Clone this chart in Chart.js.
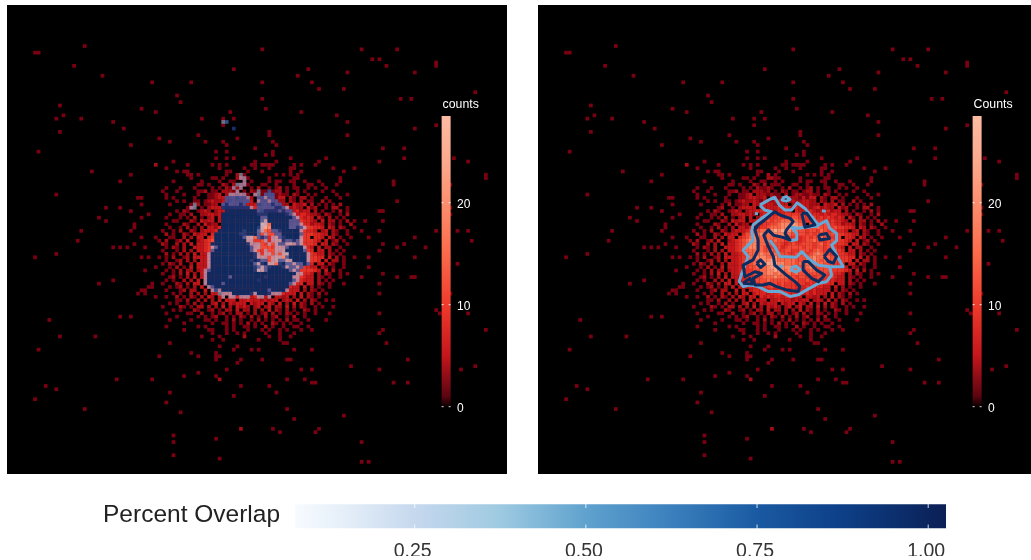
<!DOCTYPE html>
<html><head><meta charset="utf-8">
<script src="https://cdn.jsdelivr.net/npm/chart.js@4"></script>
<style>
html,body{margin:0;padding:0;background:#fff;overflow:hidden;width:1031px;height:560px}
canvas{position:absolute;display:block}
#a{left:7px;top:5px;background:#000}
#b{left:538px;top:5px;background:#000}
#c{left:0;top:490px}
</style></head><body>
<canvas id="a" width="500" height="469"></canvas>
<canvas id="b" width="500" height="469"></canvas>
<canvas id="c" width="1031" height="70"></canvas>
<script>
// Sparse bins outside the central block: [column, row, count level]
const sparseCells = [
[22,12],[8,14],[9,14],[19,18],[64,19],[27,21],[41,23],[52,23],[48,27],[49,29],[15,30],[38,31],[42,32],[63,32],[16,33],[14,34],[21,34],[55,34],[61,34],[64,34],[30,35],[61,36],[33,37],[15,38],[54,39],[43,40],[65,40],[46,41],[56,41],[61,41],[62,42],[35,42],[70,43],[9,44],
[72,13],[100,13],[110,13],[103,16],[105,16],[107,18],[121,17],[121,18],[85,19],[96,20],[115,20],[82,21],[72,23],[86,23],[88,25],[95,25],[132,26],[72,28],[111,28],[114,28],[73,31],[83,32],[93,33],[96,35],[121,36],[115,37],[74,38],[74,39],[96,39],[75,41],[76,42],[106,43],[112,43],[112,46],[126,46],
[24,50],[35,51],[32,53],[14,57],[37,58],[38,58],[38,60],[28,61],[32,61],[35,62],[40,63],[26,64],[38,64],[28,65],[36,66],[36,67],[21,68],[35,68],[38,70],[42,70],[20,71],[36,72],[30,73],[32,73],[34,73],[39,73],[14,75],[8,76],[38,76],[40,76],[42,79],[39,80],[30,83],[26,84],[41,84],[40,85],[41,85],[38,86],[39,86],[37,87],[39,87],[42,88],[32,94],[35,94],[12,95],[15,100],[25,100],[42,48,2],
[105,47],[130,47],[135,51],[135,52],[109,53],[109,54],[125,54],[110,59],[105,62],[106,62],[125,61],[125,63],[101,65],[106,65],[100,68],[105,68],[121,68],[127,68],[130,68],[102,70],[115,70],[131,71],[106,72],[110,73],[112,72],[118,73],[105,74],[102,76],[115,76],[127,78],[102,79],[106,81],[100,82],[110,82],[114,82],[115,82],[105,84],[105,87],[125,87],[121,92],[122,93],[105,93],[130,93],[105,99],[106,98],[135,98],
[46,102],[60,103],[65,103],[9,104],[64,104],[69,104],[71,104],[52,105],[59,105],[43,106],[54,106],[59,106],[60,106],[59,107],[66,107],[65,108],[62,110],[54,111],[50,112],[59,112],[31,113],[41,113],[60,113,2],[11,115],[66,115],[14,116],[46,117],[8,119],[64,118],[45,120],[22,122],[49,123],[66,128,2],[47,130],[59,131],[47,132],[47,136],[60,137],
[78,102],[79,102],[107,102],[81,104],[86,104],[72,107],[79,107],[80,107],[113,107],[97,109],[83,110],[86,110],[105,110],[79,113],[84,113],[86,114],[87,114],[109,114],[113,114],[74,115],[76,117],[128,110],[132,109],[79,122],[81,125],[95,124],[75,128],[88,128],[77,129],[87,129],[100,132],[100,138],[102,138]
];
// Central block, rows 44..101, columns 43..99: one character per bin, count level (. = empty, a = highest)
const blockCol0 = 43, blockRow0 = 44;
const countRows = [
"................1..1............1.......................",
"..............................1.1.......................",
"................1..1.1...............1.........1........",
"....1......................1.....1...........1..........",
"........1......1.1.1......11.1111.....1.1...1...........",
"..1..............1......1..1...1.....11..........1.....1",
".....1.11..........11....1...1.......1..1...........1...",
"........11.1.......1..2.1........1.1.1.1................",
".........1.....11.1...2211.....1......11...........1....",
"....1.......1....1..11..1.1....1.11..11..1...1.....1....",
"...........11.1...21.2.111...11..1....1...11..1...1.....",
"..1...1...1....1.1.21121..1.2..1.12.1.11..1.1..1........",
".1...1.....112.11.22212.1.21.11.122.1..1.1....1..1......",
"..1....1...1..1123.2221211.2.12211211.21..1.1.....1..1..",
"..1.1.....1...11233223.3212.32213133.21.22.1...1...1....",
".....1.1..11.12322321322333.23223322.21.2.11..2.1.......",
"...1.....1.2.1122.3243332333.24333222.3223.2.1.1.1.2....",
"........12..1.23333.233334343343332342322.312..1.22..1..",
".....1.21..1232.2334444334443.4334432334233.2.1..1.2.1..",
"...1..11.2..2233232.34554445555554444343443221.21..1.2..",
"..1...1.1.2.1.23.3.2445556555665655545454343.31.2.1.1...",
"....11...21.3233.3344565667778766556555454432.3.22.1.2.1",
"..1....21..2.3122.344556678889876.6665655442332.21.1..2.",
"...1..1.2.1.2.3324.4556777889898876676665655443.32.21..1",
".1..1.2..21.233345667778989987766566576555443.23.21..1..",
"..2.1..21.3233.466778778888776566565666665554433.21..1..",
"...11..2.2.33.45678776776787655456566766555.443.32.1..1.",
"1.2..12.3..23456788777767665565456676556655543.3.12.1...",
".21..2.2.3.3345678877766665456556665675665554.33.21..1..",
"..1.21.2..3334567887766566456666566566565543.3.22..1....",
".1...1.2.2.334567778766765566556665676555654.33.2.1.1...",
"..2.1.2.2.3.33456777877677665566656787665655433.21.1....",
"1.1.2..12.3333456778887787766656677877676555544.3.2.1..1",
"..1..12.2.2.3345567788898777776667787676665554.3.22.1...",
".1.21.2..2.333456677889998877767778777666554.33.21..1...",
"...1.2.1.3.3334456677789988887767787666655433.21.1..1...",
"..1.1.2.22.23344556677889887877766776666555543.3.2.1....",
".1..1.2.3.2.33445667778878777676676665655443.2.21..1.1..",
"...12.1.2.3.33345566677787776656656566555433.21.1..1....",
"..1.1..2.2.3.3344556667666665665565555544333.2.1.1......",
".1...21.2.33.3.34455656665655555545455444.33.21.1...1...",
"...1.12.1.2.3.33344555565565554545444433.3.2.1..1.......",
"..1...12.22..3.3.34445454555454444343333.2.21.1.........",
"....1.1..2.2.2.33.344434454544433434333.3.21.2.1........",
"..1..2.1.21.2.32.33.434344344333.3323.2.3.21.1..........",
".....11.2..2.2.2.3.333.33433323233.232.3.2.21..1.1......",
"...1.1..1.2.1..23.2.32333.3233.32.3.2.3.21.2.1..........",
".1....21.1.22.2.2.3.2.3232.23.23.22.3.2.21..1.1..1......",
"....1.1...21..12.1.22.3.22.2.2.3.21.2.1..21.1...........",
"..1.....11..2..1.12.1.22.1.2.12.2.1.21.1.1..1...1.......",
".....1.....1.1.12..1.1.21.2.1.2.12..1.2..1..............",
"...1.....1...11.1..1.2.1..1.2.1.1.1.2.11..1....1........",
".......1.......1..11.1.1.2.1.1..21.1.1..1...............",
"..1........1.1.....1.1..11.1..2.1..1..11..1.............",
".......1......11...1.1...1...1.1..1.1...1..1............",
"...............1...1..1.1.....1...1...1.................",
"............1....1......2......1..1..1..................",
"...............1..1.........1.....1....................."
];
// Share of overlap inside the block (left panel): a light .. d full
const overlapRows = [
"","","","","","","",
".......................a",
".......................aa",
"........................a",
"......................aaa",
".....................a.a",
"......................a.....a..b",
"....................aaaaa..aa.bbb",
"...................bbbbbba..bbabb",
"...................bbbbbbb..abbabb",
"..........a.......bcbbbcb...bbbbcbb",
".........aa.......cccccccca.bbbbbccba",
"...................dddddddddbbccccbcbb",
"..................ddddddddddcccdddddcba",
"..................dddddddddddbbdddddddba",
"..................dddddddddddbaddddddbbb",
"..................dddddddddddaa.dddddbbba",
"..................ddddddddddca..dddddbbcba",
".................dddddddcdddba..bbcddddda",
"................dddddddccdddb.a..bbdddddb",
"................ddddddddbaa.bcb.aabcdddda",
"................dddddddddaa...a.aaacbbcba",
"...............ddddddddddcaaa..a.abbaaaba",
"...............abdddddddddbaa....aaabdddda",
"...............bddddddddddba..a..aaadddddb",
"..............addddddddddddca.aa.a.aaddddda",
"..............addddddddddddcaaa.aaa.bddddda",
"..............adddddddddddcdcbb.aabbaadddda",
"..............addddddddddddbacdaa.cdbbabbdb",
"..............addddddddddddcbabcdddcabbab",
".............abddddddddddddcaabddddddbab",
".............adddddddddddddddddddddddddaa",
".............addddddbdddddddddcdddddddaa",
".............addddddddddddddcdddddddddba",
".............addddbddddddddddddddddddba",
"..............abddddddddddddddddddddd",
"...............abadddddddddddddbdddda",
".................aaaadddddcadddcaaa",
"..................a.aa.aaa..aa.a"
];
const overlapSpots = [[62,35,"b"],[61,35,"a"],[64,37,"c"]];
// Overlap contours (right panel), column/row pairs
const lightContours = [
[[62.6,60.2],[65,58.7],[66.8,57.8],[68.1,60.2],[69.7,61.7],[71.5,61.7],[73.1,59.5],[75.3,61.2],[77.2,63.7],[79.1,66.2],[81.4,64.9],[82.3,67.2],[84.2,68.8],[84.2,71],[82.8,72.3],[84.7,76.3],[86.1,78.9],[82.3,78.9],[82.8,81.4],[81.4,83.4],[79.1,83.9],[75.8,85.9],[73.4,87.4],[71.1,87.9],[68.3,86.4],[65,86.4],[62.1,84.9],[59.8,84.4],[57.9,84.9],[56.8,83.4],[57.5,80.9],[58.4,78.4],[59.3,75.8],[57.9,73.8],[60.7,70.8],[60.3,68.2],[60.7,66.2],[63.1,64.2],[65.9,62.2],[64,61.7],[62.6,60.2]],
[[79.1,66.5],[75.8,66.9],[73.4,67.2],[71.5,66.9],[73,68.8],[73,70.6],[70.9,71]],
[[65.4,70.8],[67.1,73.3],[68.3,75.8],[72.9,76],[74.4,74.3],[76.7,76.8],[79.1,78.4],[82.3,78.9]],
[[71.5,79.1],[72.8,78.7],[73.9,79.7],[72.8,80.5],[71.5,79.9],[71.5,79.1]],
[[68.9,58.1],[70.1,57.6],[71.1,58.5],[70,59],[68.9,58.7],[68.9,58.1]],
[[61.2,62.7],[62.1,62.9]],
[[80.1,61.9],[81.2,62.1]],
[[68.1,78.4],[69,79.1]]
];
const darkContours = [
[[64,64.7],[66.8,62.2],[68.3,63.2],[71.1,64.2],[72,65.2],[70.1,67.7],[69.7,68.8],[71.1,70.8],[69.2,70],[66.4,69.3],[65,67.7],[63.7,69.3],[65,72.8],[66.4,75.8],[66.8,78.4],[70.1,81.4],[72.5,83.4],[73.9,84.9],[73.4,86.4],[70.1,85.9],[67.3,84.9],[65.4,83.9],[63.6,84.4],[61.2,84.4],[60.7,82.4],[63.1,80.9],[61.2,80.4],[58.4,81.9],[57.9,78.4],[60.7,76.8],[62.1,73.8],[62.1,70.8],[61.2,67.7],[62.1,66.2],[64,64.7]],
[[74.4,62.7],[75.8,62.7],[78.1,66.2],[75.3,66.9],[74.4,62.7]],
[[79.1,69.3],[81.4,68.8],[82.2,70.3],[79.5,70.8],[79.1,69.3]],
[[80.7,75.8],[82.3,73.6],[84.2,75.8],[83.3,77.8],[81.9,77.3],[80.7,75.8]],
[[74.8,77.3],[76.2,77.3],[78.6,79.9],[80.9,81.4],[79.1,83.4],[77.2,82.4],[74.8,79.9],[74.8,77.3]],
[[61.7,77.8],[62.8,76.8],[64,78.1],[62.8,79.1],[61.7,77.8]],
[[57.9,83.9],[59.8,82.4],[60.6,84.1],[57.9,83.9]]
];
const countTicks = [0, 10, 20];
const countRange = [0, 28.5];
const overlapTicks = [0.25, 0.5, 0.75, 1.0];
const overlapRange = [0.0752, 1.026];

const levelColors = {"1":"#7d0012","2":"#a50d15","3":"#c2161b","4":"#d9241f","5":"#e8352a","6":"#f24a36","7":"#fa6648","8":"#fc8565","9":"#fca388","a":"#fdb097"};
const maskColors = {a:"rgba(176,180,215,.62)",b:"rgba(62,92,165,.82)",c:"rgba(24,52,118,.93)",d:"#0f2a60"};
const countStops = [[0,"#0a0000"],[1,"#5a0510"],[5,"#c4161c"],[10,"#ef3b2c"],[15,"#fb6a4a"],[20,"#fc8f6f"],[24,"#fca98d"],[28.5,"#fdbba3"]];
const blueStops = [[0.0752,"#f7fbff"],[0.15,"#e4eef8"],[0.25,"#c6d8ee"],[0.375,"#9ecae1"],[0.5,"#5fa2ce"],[0.625,"#3b80bd"],[0.75,"#1a5aa2"],[0.875,"#0d3f87"],[1.026,"#0b1f55"]];

function gridCells(rows, colors){
  const pts=[], cols=[];
  rows.forEach((s,i)=>{ for(let j=0;j<s.length;j++){ const k=s[j]; if(colors[k]){ pts.push({x:blockCol0+j,y:blockRow0+i}); cols.push(colors[k]); } } });
  return {pts,cols};
}
const BAR_COL = 123.8;
function countGradient(c){
  const s=c.chart.scales.yc; if(!s) return "#000";
  const y0=s.getPixelForValue(countRange[0]), y1=s.getPixelForValue(countRange[1]);
  if(!isFinite(y0)||!isFinite(y1)) return "#000";
  const g=c.chart.ctx.createLinearGradient(0,y0,0,y1);
  countStops.forEach(([v,col])=>g.addColorStop((v-countRange[0])/(countRange[1]-countRange[0]),col));
  return g;
}
const barPlugin = title => ({id:"bar",afterDraw(ch){
  const {ctx,scales:{x,yc}}=ch, xc=x.getPixelForValue(BAR_COL);
  ctx.save();ctx.font="12px 'Liberation Sans'";ctx.fillStyle="#fff";ctx.textBaseline="middle";ctx.textAlign="left";
  countTicks.forEach(t=>{const y=yc.getPixelForValue(t);
    ctx.fillStyle="rgba(255,255,255,.85)";ctx.fillRect(xc-4.5,y-.5,2,1);ctx.fillRect(xc+2.5,y-.5,2,1);
    ctx.fillStyle="#fff";ctx.fillText(String(t),xc+11,y+2);});
  ctx.fillStyle="#fff";ctx.font="12.3px 'Liberation Sans'";ctx.fillText(title,xc-3.5,yc.getPixelForValue(countRange[1])-11);
  ctx.restore();
}});
// Chart.js paints the first dataset last, so the colour bar comes first and the count cells last.
function heat(id,title,extra){
  const sparse=sparseCells.map(p=>({x:p[0],y:p[1]}));
  const sparseCol=sparseCells.map(p=>levelColors[p[2]||1]);
  const g=gridCells(countRows,levelColors);
  const datasets=[{data:countRange.map(v=>({x:BAR_COL,y:v})),showLine:true,pointRadius:0,borderWidth:9,borderColor:countGradient,yAxisID:"yc",borderCapStyle:"butt"}]
    .concat(extra)
    .concat([{data:sparse.concat(g.pts),backgroundColor:sparseCol.concat(g.cols),pointBackgroundColor:sparseCol.concat(g.cols),pointStyle:"rect",pointRadius:2.6,pointBorderWidth:0,borderWidth:0,showLine:false,yAxisID:"y"}]);
  return new Chart(document.getElementById(id),{type:"scatter",data:{datasets},
    options:{responsive:false,animation:false,events:[],layout:{padding:0,autoPadding:false},
      plugins:{legend:{display:false},tooltip:{enabled:false},title:{display:false}},
      scales:{x:{type:"linear",display:false,min:0.1,max:140.95},
              y:{type:"linear",display:false,reverse:true,min:-0.44,max:141.68},
              yc:{type:"linear",display:false,min:-6.6,max:39.38}}},
    plugins:[barPlugin(title)]});
}
const ov=gridCells(overlapRows,maskColors);
overlapSpots.forEach(p=>{ov.pts.push({x:p[0],y:p[1]});ov.cols.push(maskColors[p[2]]);});
heat("a","counts",[{data:ov.pts,backgroundColor:ov.cols,pointBackgroundColor:ov.cols,pointStyle:"rect",pointRadius:2.6,pointBorderWidth:0,borderWidth:0,showLine:false,yAxisID:"y"}]);
const lineSet=(arr,color)=>arr.map(l=>({data:l.map(p=>({x:p[0],y:p[1]})),showLine:true,pointRadius:0,borderColor:color,borderWidth:3,borderJoinStyle:"round",yAxisID:"y"}));
heat("b","Counts",lineSet(darkContours,"#0c2c60").concat(lineSet(lightContours,"#67a9d6")));

new Chart(document.getElementById("c"),{type:"scatter",
  data:{datasets:[{data:overlapRange.map(v=>({x:v,y:0.5})),showLine:true,pointRadius:0,borderWidth:24,borderCapStyle:"butt",
    borderColor(c){const s=c.chart.scales.x;if(!s)return"#000";const p0=s.getPixelForValue(overlapRange[0]),p1=s.getPixelForValue(overlapRange[1]);if(!isFinite(p0)||!isFinite(p1))return"#000";const g=c.chart.ctx.createLinearGradient(p0,0,p1,0);
      blueStops.forEach(([v,col])=>g.addColorStop((v-overlapRange[0])/(overlapRange[1]-overlapRange[0]),col));return g;}}]},
  options:{responsive:false,animation:false,events:[],layout:{padding:{left:295,right:85,top:13,bottom:4},autoPadding:false},
    plugins:{legend:{display:false},tooltip:{enabled:false}},
    scales:{x:{type:"linear",position:"bottom",min:overlapRange[0],max:overlapRange[1],
        afterBuildTicks(a){a.ticks=overlapTicks.map(v=>({value:v}));},
        grid:{display:false,drawTicks:false},border:{display:false},
        ticks:{color:"#333",padding:10,labelOffset:-2,autoSkip:false,maxRotation:0,font:{family:"'Liberation Sans'",size:19.5},callback:v=>v.toFixed(2)}},
      y:{type:"linear",display:false,min:0,max:1}}},
  plugins:[{id:"t",afterDraw(ch){const{ctx,scales:{x},chartArea:a}=ch;ctx.save();
    ctx.fillStyle="rgba(255,255,255,.8)";overlapTicks.forEach(v=>{const p=x.getPixelForValue(v);ctx.fillRect(p-.5,a.top,1,5);ctx.fillRect(p-.5,a.bottom-5,1,5);});
    ctx.fillStyle="#222";ctx.font="24.5px 'Liberation Sans'";ctx.textBaseline="alphabetic";ctx.textAlign="left";ctx.fillText("Percent Overlap",103,32);ctx.restore();}}]
});
</script>
</body></html>
